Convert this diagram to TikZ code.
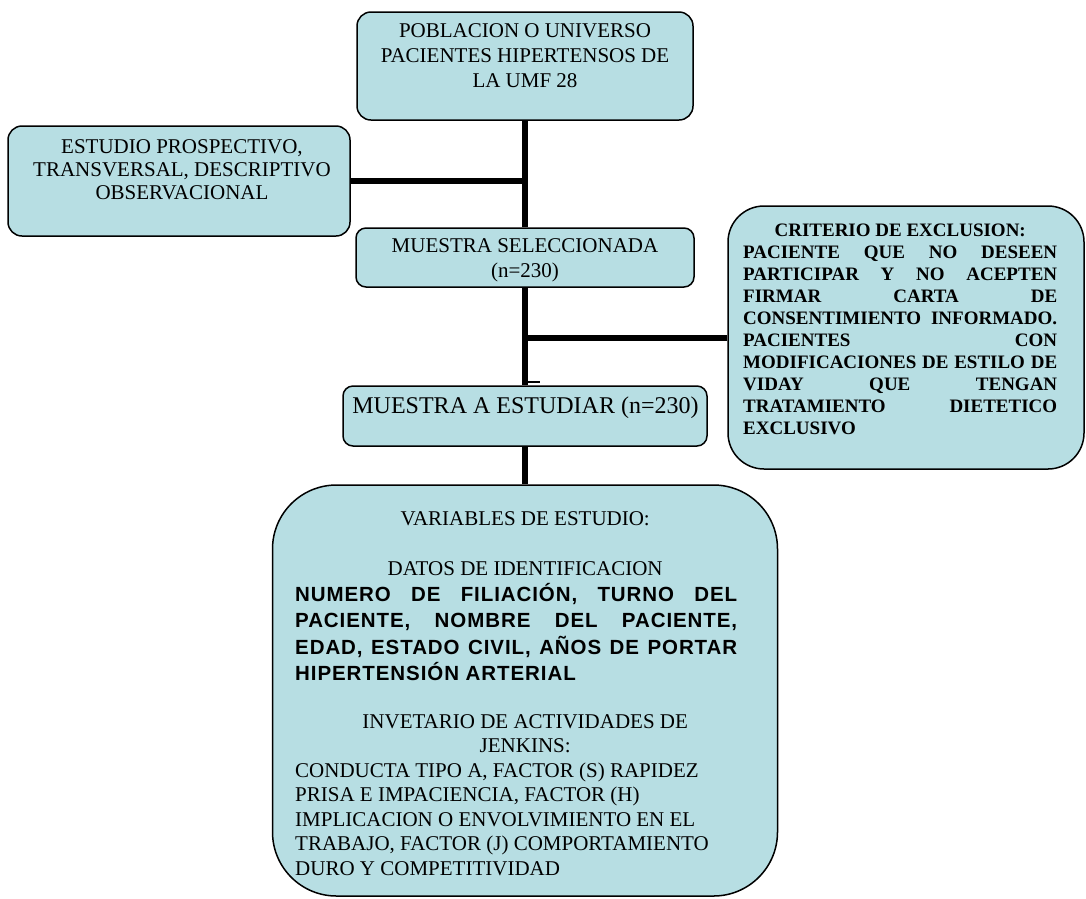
\documentclass[tikz,border=0pt]{standalone}
\usepackage{fontspec}
\setmainfont{Liberation Serif}
\newfontfamily\arialb[LetterSpace=4.5]{Liberation Sans}
\usepackage{tikz}
\usepackage{xcolor}
\definecolor{cajaazul}{RGB}{183,222,227}

\tikzset{
  caja/.style={draw=black, line width=1.5pt, fill=cajaazul, rounded corners=#1, inner sep=0pt},
  caja/.default=14pt,
  linea/.style={line width=6pt},
  texto/.style={inner sep=0pt, align=center},
}

\begin{document}
\begin{tikzpicture}[x=1pt, y=-1pt]
    \useasboundingbox (0,0) rectangle (1086,898);

    % cajas
    \node[caja, minimum width=336pt, minimum height=108pt] (pob) at (525,66) {};
    \node[caja, minimum width=342pt, minimum height=110pt] (est) at (179,181) {};
    \node[caja=10pt, minimum width=338pt, minimum height=59pt] (sel) at (525,257.5) {};
    \node[caja=10pt, minimum width=364pt, minimum height=60pt] (estd) at (525,416) {};
    \node[caja=36pt, minimum width=356pt, minimum height=263pt] (excl) at (906,337.5) {};
    \node[caja=64pt, minimum width=505pt, minimum height=411pt] (var) at (525,690.5) {};

    % lineas
    \draw[linea] (pob.south) -- (sel.north);
    \draw[linea] (sel.south) -- (estd.north);
    \draw[linea] (estd.south) -- (var.north);
    \draw[linea] (est.east) -- (est.east -| pob.south);
    \draw[linea] (excl.west) -- (excl.west -| sel.south);
    \draw[line width=2pt] ([yshift=3pt]estd.north) -- ++(15,0);

    % textos
    \node[texto, anchor=north, font=\fontsize{21}{25}\selectfont] (pobtxt) at (525,23)
        {POBLACION O UNIVERSO\\PACIENTES HIPERTENSOS DE\\LA UMF 28};
    \node[texto, anchor=north, font=\fontsize{21}{23}\selectfont] (esttxt) at (182,139)
        {ESTUDIO PROSPECTIVO,\\TRANSVERSAL, DESCRIPTIVO\\OBSERVACIONAL};
    \node[texto, anchor=north, font=\fontsize{21}{25}\selectfont] (seltxt) at (525,238)
        {MUESTRA SELECCIONADA\\(n=230)};
    \node[texto, anchor=north, font=\fontsize{24}{28}\selectfont] (estdtxt) at (525.5,397)
        {MUESTRA A ESTUDIAR (n=230)};
    \node[anchor=north west, inner sep=0pt, text width=314pt,
          font=\fontsize{19}{22}\selectfont\bfseries] (excltxt) at (743,224) {%
        \parindent=0pt \leftskip=0pt \rightskip=0pt \spaceskip=0pt \xspaceskip=0pt
        \tolerance=10000 \hyphenpenalty=10000
        {\centering CRITERIO DE EXCLUSION:\par}
        PACIENTE QUE NO DESEEN\linebreak PARTICIPAR Y NO ACEPTEN\linebreak
        FIRMAR CARTA DE\linebreak CONSENTIMIENTO INFORMADO.\linebreak
        PACIENTES CON\linebreak MODIFICACIONES DE ESTILO DE\linebreak
        VIDAY QUE TENGAN\linebreak TRATAMIENTO DIETETICO\linebreak EXCLUSIVO\par};
    \node[anchor=north west, inner sep=0pt, text width=460pt,
          font=\fontsize{21}{24.5}\selectfont] (vartxt) at (295,511) {%
        \parindent=0pt \leftskip=0pt \rightskip=0pt \spaceskip=0pt \xspaceskip=0pt
        \tolerance=10000 \hyphenpenalty=10000
        {\centering VARIABLES DE ESTUDIO:\par}
        \vspace{25.5pt}
        {\centering DATOS DE IDENTIFICACION\par}
        {\arialb\bfseries\fontsize{20.5}{26.3}\selectfont \rightskip=18pt
         NUMERO DE FILIACIÓN, TURNO DEL\linebreak PACIENTE, NOMBRE DEL PACIENTE,\linebreak
         EDAD, ESTADO CIVIL, AÑOS DE PORTAR\linebreak HIPERTENSIÓN ARTERIAL\par}
        \vspace{23.5pt}
        {\centering INVETARIO DE ACTIVIDADES DE\\JENKINS:\par}
        {\raggedright CONDUCTA TIPO A, FACTOR (S) RAPIDEZ\\PRISA E IMPACIENCIA, FACTOR (H)\\
         IMPLICACION O ENVOLVIMIENTO EN EL\\TRABAJO, FACTOR (J) COMPORTAMIENTO\\
         DURO Y COMPETITIVIDAD\par}};
\end{tikzpicture}
\end{document}
